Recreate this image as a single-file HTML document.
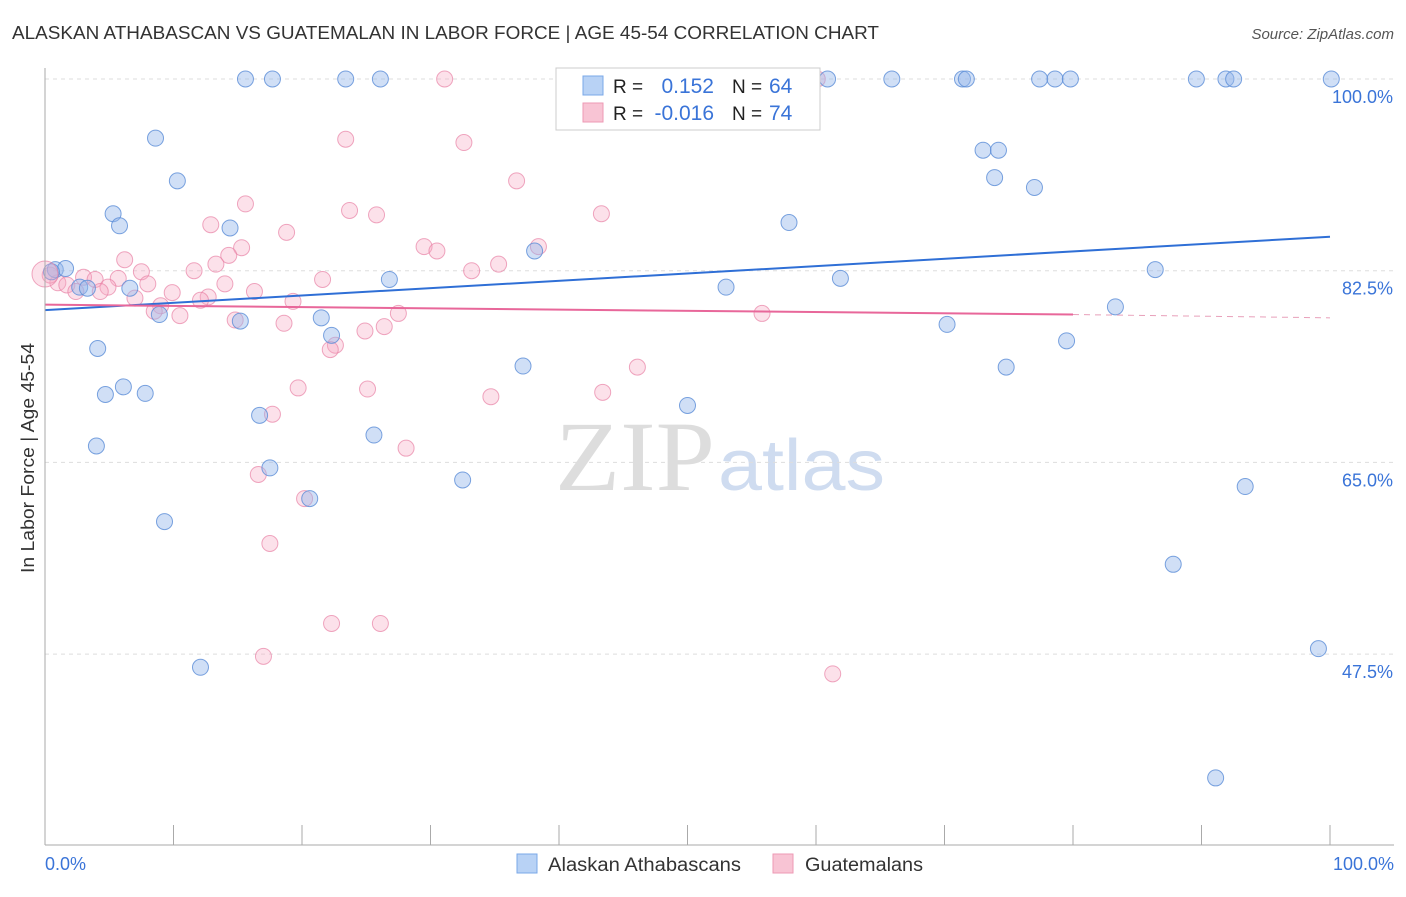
<!DOCTYPE html>
<html><head><meta charset="utf-8"><style>
body{margin:0;background:#fff;font-family:"Liberation Sans",sans-serif;}
svg text{font-family:"Liberation Sans",sans-serif;}
</style></head><body>
<svg id="c" width="1406" height="892" xmlns="http://www.w3.org/2000/svg">
<text x="12" y="39" font-size="18" fill="#333" textLength="867" lengthAdjust="spacingAndGlyphs">ALASKAN ATHABASCAN VS GUATEMALAN IN LABOR FORCE | AGE 45-54 CORRELATION CHART</text>
<text x="1394" y="39" font-size="15" fill="#555" font-style="italic" text-anchor="end">Source: ZipAtlas.com</text>
<text x="34" y="458" font-size="18" fill="#333" transform="rotate(-90 34 458)" text-anchor="middle" textLength="230" lengthAdjust="spacingAndGlyphs">In Labor Force | Age 45-54</text>
<text x="555" y="490" font-size="100" fill="#ddd" textLength="160" lengthAdjust="spacingAndGlyphs" style="font-family:'Liberation Serif',serif">ZIP</text>
<text x="718" y="490" font-size="72" fill="#cfdcf0" textLength="167" lengthAdjust="spacingAndGlyphs">atlas</text>
<g id="grid"></g><g id="pts"></g><g id="lines"></g>
<line x1="45" y1="68" x2="45" y2="845" stroke="#aaa"/>
<line x1="45" y1="845" x2="1394" y2="845" stroke="#aaa"/>
<text x="45" y="870" font-size="18" fill="#3a74d8">0.0%</text>
<text x="1394" y="870" font-size="18" fill="#3a74d8" text-anchor="end">100.0%</text>
<g>
<rect x="556" y="68" width="264" height="62" fill="#fff" stroke="#ccc"/>
<rect x="583" y="76" width="20" height="19" fill="#b8d2f5" stroke="#7aa8e8"/>
<rect x="583" y="103" width="20" height="19" fill="#f8c4d4" stroke="#ee9ab4"/>
<text x="613" y="93" font-size="19" fill="#222">R =</text><text x="714" y="93" font-size="21" fill="#3a74d8" text-anchor="end">0.152</text>
<text x="732" y="93" font-size="19" fill="#222">N =</text><text x="769" y="93" font-size="21" fill="#3a74d8">64</text>
<text x="613" y="120" font-size="19" fill="#222">R =</text><text x="714" y="120" font-size="21" fill="#3a74d8" text-anchor="end">-0.016</text>
<text x="732" y="120" font-size="19" fill="#222">N =</text><text x="769" y="120" font-size="21" fill="#3a74d8">74</text>
</g>
<g>
<rect x="517" y="854" width="20" height="19" fill="#b8d2f5" stroke="#7aa8e8"/>
<text x="548" y="871" font-size="19" fill="#333" textLength="193" lengthAdjust="spacingAndGlyphs">Alaskan Athabascans</text>
<rect x="773" y="854" width="20" height="19" fill="#f8c4d4" stroke="#ee9ab4"/>
<text x="805" y="871" font-size="19" fill="#333" textLength="118" lengthAdjust="spacingAndGlyphs">Guatemalans</text>
</g>
</svg>
<script>
const yTicks=[100,82.5,65,47.5];
const yTickLabels=["100.0%","82.5%","65.0%","47.5%"];
const xTicks=[0,10,20,30,40,50,60,70,80,90,100];
const bluePx=[[245,79],[272,79],[346,79],[380,79],[828,79],[892,79],[963,79],[966,79],[1040,79],[1055,79],[1070,79],[1196,79],[1226,79],[1233,79],[1331,79],[155,138],[177,181],[113,214],[120,226],[230,228],[983,150],[998,150],[995,178],[1034,188],[789,223],[535,251],[55,270],[65,268],[52,272],[80,287],[87,288],[130,288],[389,280],[726,287],[840,278],[1155,270],[1115,307],[160,314],[240,321],[321,318],[331,335],[947,324],[1066,341],[98,348],[523,366],[1006,367],[124,387],[105,394],[145,393],[260,415],[688,405],[374,435],[96,446],[270,468],[462,480],[310,499],[1245,487],[164,522],[1173,564],[200,667],[1319,649],[1215,778]];
const pinkPx=[[445,79],[718,79],[817,79],[346,139],[464,143],[516,181],[245,204],[349,211],[377,215],[601,214],[211,225],[287,232],[241,248],[424,247],[437,251],[539,247],[229,255],[125,260],[216,264],[498,264],[472,271],[141,272],[194,271],[84,277],[95,279],[118,278],[323,280],[58,283],[67,285],[108,287],[148,284],[225,284],[76,291],[100,292],[254,292],[172,293],[208,297],[293,301],[135,298],[201,300],[161,306],[154,311],[180,316],[398,313],[235,320],[284,323],[762,313],[365,331],[384,327],[336,345],[330,350],[298,388],[368,389],[491,397],[603,392],[638,367],[273,414],[406,448],[258,475],[305,499],[270,543],[332,624],[380,624],[264,656],[833,674],[50,275]];
const blueX=bluePx.map(p=>+((p[0]-45)/12.85).toFixed(1));
const blueY=bluePx.map(p=>+(100-(p[1]-79)/10.955).toFixed(1));
const pinkX=pinkPx.map(p=>+((p[0]-45)/12.85).toFixed(1));
const pinkY=pinkPx.map(p=>+(100-(p[1]-79)/10.955).toFixed(1));
const blueTrend=[[0,78.9],[100,85.6]];
const pinkTrend=[[0,79.4],[80,78.5],[100,78.2]];
const X=v=>45+v*12.85, Y=v=>79+(100-v)*10.955;
const NS="http://www.w3.org/2000/svg";
function mk(t,a,p){const e=document.createElementNS(NS,t);for(const k in a)e.setAttribute(k,a[k]);p.appendChild(e);return e;}
const grid=document.getElementById('grid'),pts=document.getElementById('pts'),lines=document.getElementById('lines');
yTicks.forEach((v,i)=>{
 const l=mk('line',{x1:45,x2:1394,y1:Y(v),y2:Y(v),stroke:'#ddd','stroke-dasharray':'4,4'},grid);
 
 
 const t=mk('text',{x:1393,y:Y(v)+24,'font-size':18,fill:'#3a74d8','text-anchor':'end'},grid);
 t.textContent=yTickLabels[i];
 
 
});
xTicks.forEach(v=>{
 const l=mk('line',{x1:X(v),x2:X(v),y1:825,y2:845,stroke:'#aaa'},grid);
 
 
});
pinkX.forEach((x,i)=>{
 const c=mk('circle',{cx:X(x),cy:Y(pinkY[i]),r:8,fill:'rgba(245,170,195,0.35)',stroke:'rgba(232,130,165,0.7)','stroke-width':1},pts);
 
 
});
blueX.forEach((x,i)=>{
 const c=mk('circle',{cx:X(x),cy:Y(blueY[i]),r:8,fill:'rgba(150,185,235,0.45)',stroke:'rgba(90,140,215,0.8)','stroke-width':1},pts);
 
 
});
const big=mk('circle',{cx:X(0),cy:Y(82.2),r:13,fill:'rgba(245,170,195,0.35)',stroke:'rgba(232,130,165,0.7)'},pts);


const bl=mk('line',{x1:X(blueTrend[0][0]),y1:Y(blueTrend[0][1]),x2:X(blueTrend[1][0]),y2:Y(blueTrend[1][1]),stroke:'#2f6fd6','stroke-width':2},lines);


const pl=mk('line',{x1:X(pinkTrend[0][0]),y1:Y(pinkTrend[0][1]),x2:X(pinkTrend[1][0]),y2:Y(pinkTrend[1][1]),stroke:'#e8679a','stroke-width':2},lines);


const pd=mk('line',{x1:X(pinkTrend[1][0]),y1:Y(pinkTrend[1][1]),x2:X(pinkTrend[2][0]),y2:Y(pinkTrend[2][1]),stroke:'#e8a0ba','stroke-width':1,'stroke-dasharray':'6,5'},lines);


</script>
</body></html>
